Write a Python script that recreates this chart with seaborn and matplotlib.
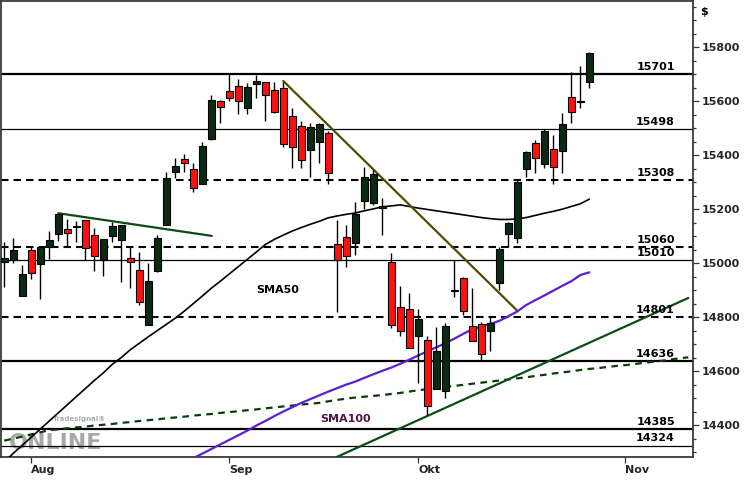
import numpy as np
import pandas as pd
import matplotlib
matplotlib.use("Agg")
import matplotlib.pyplot as plt
import seaborn as sns

# ---------------- data ----------------
opens = [15005, 15011, 14880, 15049, 14996, 15059, 15107, 15125, 15133, 15159,
         15104, 15011, 15102, 15086, 15018, 14975, 14772, 14972, 15141, 15339,
         15385, 15348, 15295, 15460, 15601, 15638, 15657, 15576, 15663, 15670,
         15642, 15648, 15545, 15508, 15419, 15450, 15484, 15070, 15096, 15073,
         15232, 15222, 15205, 15003, 14839, 14830, 14731, 14715, 14532, 14527,
         14896, 14944, 14767, 14773, 14750, 14925, 15107, 15092, 15348, 15446,
         15366, 15422, 15417, 15614, 15599, 15673]
highs = [15077, 15092, 14993, 15061, 15061, 15119, 15185, 15162, 15156, 15159,
         15129, 15088, 15154, 15141, 15061, 15043, 14999, 15104, 15339, 15388,
         15405, 15372, 15450, 15623, 15605, 15701, 15683, 15669, 15697, 15670,
         15673, 15673, 15574, 15528, 15518, 15518, 15491, 15160, 15141, 15228,
         15355, 15345, 15240, 15039, 14915, 14888, 14830, 14730, 14762, 14779,
         15012, 14950, 14907, 14783, 14802, 15059, 15154, 15308, 15416, 15456,
         15496, 15475, 15555, 15710, 15731, 15784]
lows = [14913, 15002, 14880, 14942, 14866, 15017, 15083, 15061, 15080, 15011,
        14972, 14954, 15080, 14931, 14907, 14845, 14772, 14968, 15141, 15314,
        15339, 15265, 15293, 15456, 15521, 15602, 15553, 15553, 15611, 15528,
        15555, 15432, 15351, 15351, 15318, 15370, 15293, 14820, 14987, 15030,
        15200, 15216, 15104, 14758, 14730, 14684, 14555, 14437, 14532, 14499,
        14876, 14808, 14713, 14641, 14676, 14900, 15061, 15073, 15320, 15333,
        15351, 15292, 15335, 15518, 15576, 15650]
closes = [15018, 15049, 14958, 14962, 15061, 15084, 15182, 15110, 15136, 15055,
          15028, 15088, 15138, 15141, 15003, 14857, 14934, 15092, 15314, 15360,
          15370, 15277, 15434, 15605, 15580, 15611, 15602, 15652, 15675, 15622,
          15561, 15440, 15432, 15382, 15503, 15516, 15333, 15012, 15028, 15182,
          15318, 15330, 15210, 14771, 14750, 14687, 14793, 14472, 14674, 14767,
          14900, 14823, 14713, 14663, 14777, 15051, 15148, 15300, 15411, 15388,
          15490, 15355, 15514, 15559, 15602, 15778]

sma50 = [14263, 14295, 14325, 14355, 14385, 14415, 14445, 14475, 14505, 14535,
         14565, 14593, 14625, 14650, 14679, 14703, 14727, 14750, 14773, 14796,
         14822, 14850, 14878, 14907, 14933, 14960, 14987, 15014, 15041, 15069,
         15088, 15104, 15119, 15132, 15144, 15155, 15168, 15175, 15181, 15186,
         15194, 15201, 15209, 15212, 15216, 15210, 15204, 15199, 15194, 15189,
         15184, 15179, 15174, 15169, 15165, 15162, 15162, 15164, 15169, 15177,
         15185, 15192, 15200, 15210, 15220, 15237]

sma100 = [14342, 14350, 14357, 14365, 14373, 14381, 14384, 14388, 14391, 14394,
          14398, 14401, 14404, 14408, 14411, 14415, 14418, 14421, 14425, 14428,
          14431, 14435, 14438, 14441, 14445, 14448, 14451, 14455, 14458, 14462,
          14465, 14469, 14472, 14476, 14479, 14482, 14488, 14493, 14498, 14502,
          14505, 14508, 14511, 14515, 14519, 14524, 14529, 14533, 14537, 14541,
          14545, 14549, 14553, 14557, 14561, 14565, 14569, 14573, 14577, 14582,
          14586, 14591, 14595, 14599, 14604, 14608, 14611, 14615, 14619, 14622,
          14626, 14630, 14634, 14638, 14643, 14647, 14651]

purple_start = 20
purple = [14260, 14277, 14294, 14311, 14328, 14345, 14362, 14379, 14398, 14415,
          14433, 14450, 14466, 14482, 14496, 14510, 14524, 14537, 14550, 14561,
          14575, 14588, 14601, 14613, 14627, 14642, 14658, 14673, 14688, 14703,
          14720, 14738, 14755, 14765, 14775, 14786, 14803, 14821, 14845, 14863,
          14880, 14898, 14916, 14933, 14956, 14966]

# trendlines: (bar index, price) endpoints
trend_green_top = ([6.0, 23.05], [15185, 15101])
trend_olive = ([31.0, 56.93], [15675, 14826])
trend_green_low = ([36.7, 76.0], [14278, 14871])

levels = [15701, 15498, 15308, 15060, 15010, 14801, 14636, 14385, 14324]
level_styles = ["thick", "thin", "dash", "dash", "thin", "dash", "thick", "thick", "thin"]

month_pos = [3, 25, 46, 69]
month_labels = ["Aug", "Sep", "Okt", "Nov"]
y_ticks = [14400, 14600, 14800, 15000, 15200, 15400, 15600, 15800]

# ---------------- figure ----------------
sns.set_theme(style="white")
plt.rcParams["font.family"] = ["DejaVu Sans"]

fig = plt.figure(figsize=(7.5, 4.8), dpi=100)
ax = fig.add_axes([0.5 / 750, 23 / 480, 692.5 / 750, 456 / 480])
ax.set_facecolor("white")

n = len(opens)
idx = np.arange(n)
df = pd.DataFrame({"i": idx, "o": opens, "h": highs, "l": lows, "c": closes})

# horizontal levels
for lv, st in zip(levels, level_styles):
    if st == "thick":
        ax.axhline(lv, color="black", lw=1.6, zorder=1)
    elif st == "thin":
        ax.axhline(lv, color="black", lw=0.9, zorder=1)
    else:
        ax.axhline(lv, color="black", lw=1.5, dashes=(3.6, 2.4), zorder=1)
    ax.annotate(str(lv), xy=(74.5, lv), xytext=(0, 1.5), textcoords="offset points",
                ha="right", va="bottom", fontsize=8, fontweight="bold", color="black",
                zorder=6)

# watermark
ax.text(0.012, 0.018, "ONLINE", transform=ax.transAxes, fontsize=16, fontweight="bold",
        color="#8a8a8a", alpha=0.75, zorder=0.5)
ax.text(0.075, 0.078, "Tradesignal\u00ae", transform=ax.transAxes, fontsize=5,
        fontweight="bold", color="#9a9a9a", alpha=0.8, zorder=0.5)

# moving averages / lines through seaborn
sns.lineplot(x=np.arange(len(sma100)), y=sma100, ax=ax, color="#0b3d0b", lw=1.6,
             dashes=False, zorder=2).lines[-1].set_dashes((3.0, 2.4))
sns.lineplot(x=np.arange(len(sma50)), y=sma50, ax=ax, color="black", lw=1.2, zorder=3)
sns.lineplot(x=np.arange(purple_start, purple_start + len(purple)), y=purple, ax=ax,
             color="#5b1fd6", lw=1.6, zorder=3)
sns.lineplot(x=trend_green_low[0], y=trend_green_low[1], ax=ax, color="#0b4d12", lw=1.6, zorder=3)
sns.lineplot(x=trend_green_top[0], y=trend_green_top[1], ax=ax, color="#0d4a1a", lw=1.6, zorder=3)
sns.lineplot(x=trend_olive[0], y=trend_olive[1], ax=ax, color="#504c00", lw=1.6, zorder=3)

# candles
up = df["c"] >= df["o"]
ax.vlines(df["i"], df["l"], df["h"], color="black", lw=1.0, zorder=4)
body_bottom = np.minimum(df["o"], df["c"])
body_h = np.maximum(np.abs(df["c"] - df["o"]), 3)
colors = np.where(up, "#0b2a12", "#ff1010")
ax.bar(df["i"], body_h, bottom=body_bottom, width=0.72, color=colors,
       edgecolor="black", linewidth=0.8, zorder=5)

# labels of MAs
ax.text(30.4, 14902, "SMA50", ha="center", va="center", fontsize=8, fontweight="bold",
        color="black", zorder=6)
ax.text(37.9, 14422, "SMA100", ha="center", va="center", fontsize=8, fontweight="bold",
        color="#4e1450", zorder=6)

# axes
ax.set_xlim(-0.42, 76.52)
ax.set_ylim(14281.5, 15971.6)
ax.yaxis.tick_right()
ax.set_yticks(y_ticks)
ax.set_yticklabels([str(v) for v in y_ticks], fontsize=8, fontweight="bold")
ax.set_yticks(np.arange(14300, 15951, 50), minor=True)
ax.set_xticks(month_pos)
ax.set_xticklabels(month_labels, fontsize=8, fontweight="bold", ha="left")
ax.tick_params(axis="y", which="major", length=4, width=0.9, pad=2, color="#333333",
               right=True, left=False)
ax.tick_params(axis="y", which="minor", length=2, width=0.9, color="#333333",
               right=True, left=False)
ax.tick_params(axis="x", which="major", length=4, width=0.9, pad=2, color="#333333",
               bottom=True)
ax.set_xlabel("")
ax.set_ylabel("")
for s in ax.spines.values():
    s.set_visible(True)
    s.set_color("#3a3a3a")
    s.set_linewidth(1.3)
ax.grid(False)

fig.text(700 / 750, 1 - 12 / 480, "$", fontsize=8, fontweight="bold", ha="left",
         va="center", color="black")

fig.savefig("out.png", dpi=100, facecolor="white")
